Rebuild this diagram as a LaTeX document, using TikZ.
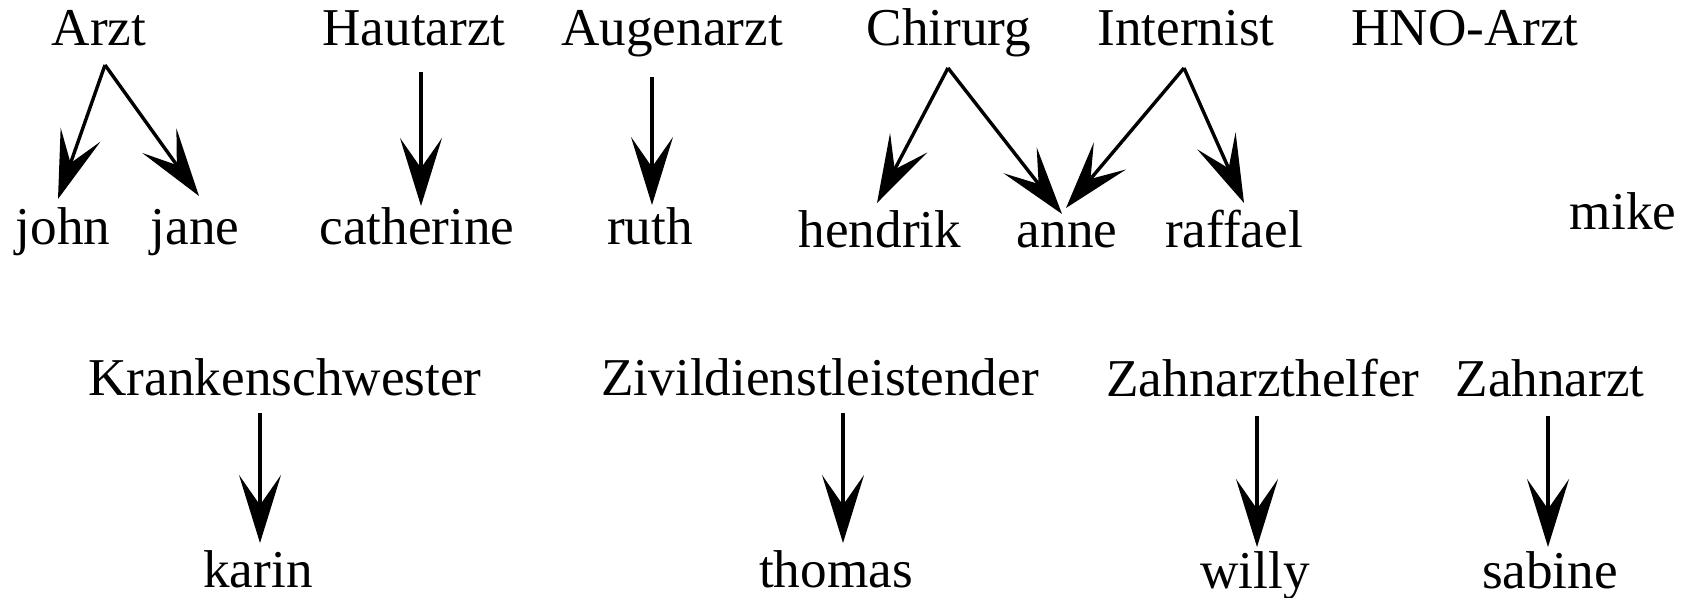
\documentclass[tikz,border=0pt]{standalone}
\usepackage{fontspec}
\setmainfont{Liberation Serif}
\usetikzlibrary{arrows.meta,calc}
\begin{document}
\begin{tikzpicture}[x=0.5pt,y=-0.5pt,
  lbl/.style={anchor=base,inner sep=0pt,font=\fontsize{26.6}{30}\selectfont},
  arr/.style={line width=1.7pt,-{Stealth[length=34pt,width=21pt,inset=15pt]}}]
\useasboundingbox[fill=white] (0,0) rectangle (1689,598);
% professions, upper row
\node[lbl] (arzt)      at (99,46)   {Arzt};
\node[lbl] (hautarzt)  at (414,46)  {Hautarzt};
\node[lbl] (augenarzt) at (672,46)  {Augenarzt};
\node[lbl] (chirurg)   at (949,46)  {Chirurg};
\node[lbl] (internist) at (1186,46) {Internist};
\node[lbl] (hno)       at (1465,46) {HNO-Arzt};
% persons, upper row
\node[lbl] (john)      at (63,245)   {john};
\node[lbl] (jane)      at (195,245)  {jane};
\node[lbl] (catherine) at (417,245)  {catherine};
\node[lbl] (ruth)      at (650,245)  {ruth};
\node[lbl] (hendrik)   at (880,248)  {hendrik};
\node[lbl] (anne)      at (1067,248) {anne};
\node[lbl] (raffael)   at (1234,248) {raffael};
\node[lbl] (mike)      at (1623,230) {mike};
% professions, lower row
\node[lbl] (kranken)   at (285,395)  {Krankenschwester};
\node[lbl] (zivi)      at (820,395)  {Zivildienstleistender};
\node[lbl] (zhelfer)   at (1263,396) {Zahnarzthelfer};
\node[lbl] (zahnarzt)  at (1550,396) {Zahnarzt};
% persons, lower row
\node[lbl] (karin)     at (258,587)  {karin};
\node[lbl] (thomas)    at (836,587)  {thomas};
\node[lbl] (willy)     at (1255,588) {willy};
\node[lbl] (sabine)    at (1550,588) {sabine};
% assignments
\draw[arr] ($(arzt.base)+(6,19)$) -- ($(john.base)+(-5,-46)$);
\draw[arr] ($(arzt.base)+(6,19)$) -- ($(jane.base)+(4,-49)$);
\draw[arr] ($(hautarzt.base)+(7,26)$) -- ($(catherine.base)+(4,-39)$);
\draw[arr] ($(augenarzt.base)+(-20,31)$) -- ($(ruth.base)+(2,-40)$);
\draw[arr] ($(chirurg.base)+(-1,22)$) -- ($(hendrik.base)+(-3,-45)$);
\draw[arr] ($(chirurg.base)+(-1,22)$) -- ($(anne.base)+(-5,-34)$);
\draw[arr] ($(internist.base)+(-2,22)$) -- ($(anne.base)+(-1,-40)$);
\draw[arr] ($(internist.base)+(-2,22)$) -- ($(raffael.base)+(10,-45)$);
\draw[arr] ($(kranken.base)+(-25,18)$) -- ($(karin.base)+(2,-44)$);
\draw[arr] ($(zivi.base)+(23,18)$) -- ($(thomas.base)+(7,-44)$);
\draw[arr] ($(zhelfer.base)+(-6,20)$) -- ($(willy.base)+(2,-41)$);
\draw[arr] ($(zahnarzt.base)+(-2,20)$) -- ($(sabine.base)+(-2,-41)$);
\end{tikzpicture}
\end{document}
